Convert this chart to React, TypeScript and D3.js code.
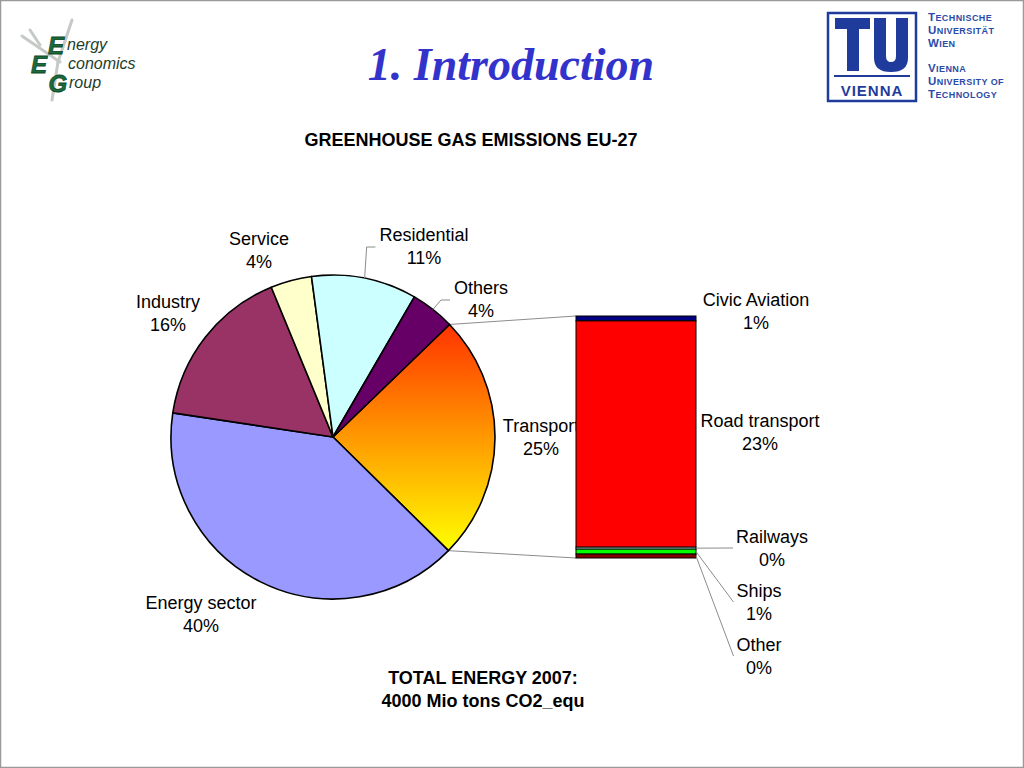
import React from "react";
import * as d3 from "d3";

// ---------- data ----------
const pieCategories = ["Transport", "Energy sector", "Industry", "Service", "Residential", "Others"];
const pieValues = [24.6, 40.0, 16.4, 4.1, 10.5, 4.4];
const pieColors = ["url(#transportGrad)", "#9999FF", "#993366", "#FFFFCC", "#CCFFFF", "#660066"];

const barCategories = ["Civic Aviation", "Road transport", "Railways", "Ships", "Other"];
const barValues = [0.5, 23.0, 0.2, 0.5, 0.4];
const barColors = ["#000080", "#FF0000", "#CCFFFF", "#00FF00", "#800000"];

const slideTitle = "1. Introduction";
const chartTitle = "GREENHOUSE GAS EMISSIONS EU-27";
const footnoteLines = ["TOTAL ENERGY 2007:", "4000 Mio tons CO2_equ"];

// ---------- layout ----------
const W = 1024;
const H = 768;
const cx = 333;
const cy = 437;
const R = 162;
const startDeg = 46;
const bar = { x: 576, w: 120, top: 316, bottom: 558 };
const FONT = "'Liberation Sans', Arial, sans-serif";
const FS = 18;
const LINE = 23;

const pieLabelPos: Record<string, [number, number]> = {
  Transport: [541, 426],
  "Energy sector": [201, 603],
  Industry: [168, 302],
  Service: [259, 239],
  Residential: [424, 235],
  Others: [481, 288],
};
const pieLeaders = new Set(["Residential", "Others"]);

const barLabelPos: Record<string, [number, number]> = {
  "Civic Aviation": [756, 300],
  "Road transport": [760, 421],
  Railways: [772, 537],
  Ships: [759, 591],
  Other: [759, 645],
};
const barLeaders = new Set(["Railways", "Ships", "Other"]);

let ctx: CanvasRenderingContext2D | null = null;
function textWidth(s: string) {
  if (!ctx) {
    const c = document.createElement("canvas");
    ctx = c.getContext("2d");
  }
  if (!ctx) return s.length * FS * 0.5;
  ctx.font = `${FS}px 'Liberation Sans', Arial, sans-serif`;
  return ctx.measureText(s).width;
}

function pt(a: number, r: number): [number, number] {
  return [cx + r * Math.sin(a), cy - r * Math.cos(a)];
}

function Label({ x, y, lines, bold }: { x: number; y: number; lines: string[]; bold?: boolean }) {
  return (
    <text
      x={x}
      y={y + 6}
      textAnchor="middle"
      fontFamily={FONT}
      fontSize={FS}
      fontWeight={bold ? "bold" : "normal"}
      fill="#000"
    >
      {lines.map((l, i) => (
        <tspan key={i} x={x} dy={i === 0 ? 0 : LINE}>
          {l}
        </tspan>
      ))}
    </text>
  );
}

function EEGLogo() {
  const green = "#1C6B3E";
  const dark = "#1E3D2C";
  const big = { fill: green, stroke: "#0E4A28", strokeWidth: 0.8, fontWeight: "bold" as const, fontSize: 24 };
  const small = { fill: dark, fontSize: 16 };
  return (
    <g>
      <g stroke="#B8BDB8" strokeWidth={3} strokeLinecap="round" opacity={0.8}>
        <line x1={22} y1={36} x2={60} y2={62} />
        <line x1={58} y1={62} x2={72} y2={20} />
        <line x1={58} y1={62} x2={52} y2={100} />
        <line x1={40} y1={45} x2={30} y2={30} />
      </g>
      <text fontFamily={FONT} fontStyle="italic">
        <tspan x={48} y={54} {...big}>E</tspan>
        <tspan x={67} y={50} {...small}>nergy</tspan>
        <tspan x={31} y={73} {...big}>E</tspan>
        <tspan x={68} y={69} {...small}>conomics</tspan>
        <tspan x={48.5} y={92} {...big}>G</tspan>
        <tspan x={69} y={88} {...small}>roup</tspan>
      </text>
    </g>
  );
}

function TULogo() {
  const blue = "#1F3C9C";
  const lines = ["Technische", "Universität", "Wien", "Vienna", "University of", "Technology"];
  const ys = [21, 34, 47, 72, 85, 98];
  return (
    <g>
      <rect x={828} y={13} width={88} height={88} fill="#fff" stroke={blue} strokeWidth={2.5} />
      <rect x={835} y={18} width={35} height={11} fill={blue} />
      <rect x={847} y={18} width={12} height={53} fill={blue} />
      <path
        d={`M874,18 h12 v38 q0,6 5,6 q5,0 5,-6 v-38 h12 v40 q0,14 -17,14 q-17,0 -17,-14 z`}
        fill={blue}
      />
      <rect x={834} y={75} width={76} height={2} fill={blue} />
      <text x={872} y={96} textAnchor="middle" fontFamily={FONT} fontWeight="bold" fontSize={15} fill={blue} letterSpacing={1}>
        VIENNA
      </text>
      <g fontFamily={FONT} fontWeight="bold" fill="#2B4BA8">
        {lines.map((l, i) => (
          <text key={l} x={928} y={ys[i]} letterSpacing={0.4}>
            {Array.from(l).map((ch, j) => {
              const isCap = ch !== ch.toLowerCase();
              return (
                <tspan key={j} fontSize={isCap ? 11.5 : 9}>
                  {ch.toUpperCase()}
                </tspan>
              );
            })}
          </text>
        ))}
      </g>
    </g>
  );
}

export default function App() {
  const pieTotal = d3.sum(pieValues);
  const a0 = (startDeg * Math.PI) / 180;
  const arcs = d3
    .pie<number>()
    .sort(null)
    .startAngle(a0)
    .endAngle(a0 + 2 * Math.PI)(pieValues);
  const arcGen = d3.arc<d3.PieArcDatum<number>>().innerRadius(0).outerRadius(R);

  const barTotal = d3.sum(barValues);
  const yBar = d3.scaleLinear().domain([0, barTotal]).range([bar.top, bar.bottom]);
  const cum = barValues.map((_, i) => d3.sum(barValues.slice(0, i)));

  const transportArc = arcs[0];
  const cStart = pt(transportArc.startAngle, R);
  const cEnd = pt(transportArc.endAngle, R);

  return (
    <div style={{ position: "absolute", left: 0, top: 0 }}>
      <svg width={W} height={H} viewBox={`0 0 ${W} ${H}`} style={{ display: "block", background: "#fff" }}>
        <defs>
          <linearGradient id="transportGrad" x1="0" y1="0" x2="0" y2="1">
            <stop offset="0%" stopColor="#FF3300" />
            <stop offset="100%" stopColor="#FFFF00" />
          </linearGradient>
        </defs>
        <rect x={0.5} y={0.5} width={W - 1} height={H - 1} fill="none" stroke="#9a9a9a" strokeWidth={1.5} />

        <EEGLogo />
        <TULogo />

        <text
          x={511}
          y={80}
          textAnchor="middle"
          fontFamily="'Liberation Serif', 'Times New Roman', serif"
          fontWeight="bold"
          fontStyle="italic"
          fontSize={46}
          fill="#3333CC"
        >
          {slideTitle}
        </text>

        <text x={471} y={146} textAnchor="middle" fontFamily={FONT} fontWeight="bold" fontSize={FS} fill="#000">
          {chartTitle}
        </text>

        {/* connector lines */}
        <g stroke="#8c8c8c" strokeWidth={1} fill="none">
          <line x1={cStart[0]} y1={cStart[1]} x2={bar.x} y2={bar.top} />
          <line x1={cEnd[0]} y1={cEnd[1]} x2={bar.x} y2={bar.bottom} />
        </g>

        {/* pie */}
        <g transform={`translate(${cx},${cy})`}>
          {arcs.map((d, i) => (
            <path key={pieCategories[i]} d={arcGen(d) || ""} fill={pieColors[i]} stroke="#000" strokeWidth={1.6} strokeLinejoin="round" />
          ))}
        </g>

        {/* pie labels */}
        {arcs.map((d, i) => {
          const name = pieCategories[i];
          const [lx, ly] = pieLabelPos[name];
          const pct = `${Math.round((pieValues[i] / pieTotal) * 100)}%`;
          let leader = null;
          if (pieLeaders.has(name)) {
            const mid = (d.startAngle + d.endAngle) / 2;
            const [ax, ay] = pt(mid, R);
            const endX = lx - textWidth(name) / 2 - 4;
            const endY = ly + 12;
            const elbowX = Math.max(ax + 2, endX - 9);
            leader = (
              <polyline
                points={`${ax},${ay} ${elbowX},${endY} ${endX},${endY}`}
                fill="none"
                stroke="#8c8c8c"
                strokeWidth={1}
              />
            );
          }
          return (
            <g key={name}>
              {leader}
              <Label x={lx} y={ly} lines={[name, pct]} />
            </g>
          );
        })}

        {/* bar of pie */}
        <g>
          {barValues.map((v, i) => (
            <rect
              key={barCategories[i]}
              x={bar.x}
              y={yBar(cum[i])}
              width={bar.w}
              height={yBar(cum[i] + v) - yBar(cum[i])}
              fill={barColors[i]}
              stroke="#000"
              strokeWidth={1}
            />
          ))}
        </g>

        {/* bar labels */}
        {barValues.map((v, i) => {
          const name = barCategories[i];
          const [lx, ly] = barLabelPos[name];
          const pct = `${Math.round((v / pieTotal) * 100)}%`;
          let leader = null;
          if (barLeaders.has(name)) {
            const sy = (yBar(cum[i]) + yBar(cum[i] + v)) / 2;
            const endX = lx - textWidth(name) / 2 - 3;
            const endY = ly + 11;
            leader = <line x1={bar.x + bar.w} y1={sy} x2={endX} y2={endY} stroke="#8c8c8c" strokeWidth={1} />;
          }
          return (
            <g key={name}>
              {leader}
              <Label x={lx} y={ly} lines={[name, pct]} />
            </g>
          );
        })}

        <Label x={483} y={678} lines={footnoteLines} bold />
      </svg>
    </div>
  );
}
